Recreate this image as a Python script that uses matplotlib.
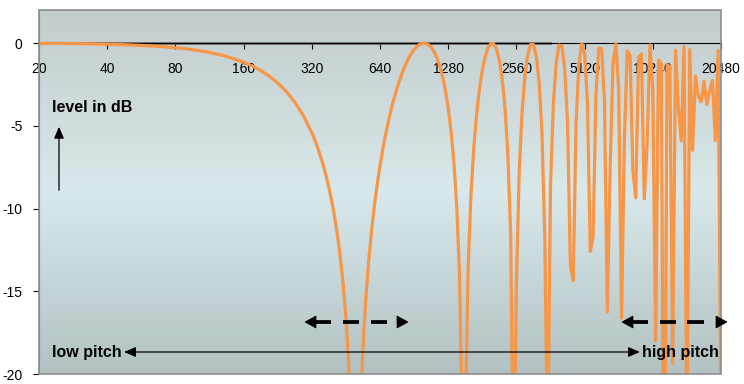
import matplotlib.pyplot as plt
import numpy as np
from matplotlib.patches import Rectangle, Polygon
from matplotlib.ticker import NullLocator

plt.rcParams['font.family'] = ['Liberation Sans', 'DejaVu Sans']

## ---------------- data ----------------
# frequency (Hz) of each point of the response curve
freq = [20, 23.8, 28.3, 33.6, 40, 47.6, 56.6, 67.3, 80, 95.1, 113.1, 134.5,
        160, 174.5, 190.3, 207.5, 226.3, 246.8, 269.1, 293.5,
        320, 329.4, 339.0, 349.0, 359.2, 369.7, 380.5, 391.7, 403.2, 415.0,
        427.1, 439.7, 452.5, 465.8, 479.5, 493.5, 508.0, 522.8, 538.2, 553.9,
        570.2, 586.9, 604.1, 621.8,
        640, 658.8, 678.1, 697.9, 718.4, 739.4, 761.1, 783.4, 806.3, 830.0,
        854.3, 879.3, 905.1, 931.6, 958.9, 987.0, 1015.9, 1045.7, 1076.3,
        1107.9, 1140.3, 1173.8, 1208.2, 1243.6,
        1280, 1317.5, 1356.1, 1395.9, 1436.8, 1478.9, 1522.2, 1566.8, 1612.7,
        1660.0, 1708.6, 1758.7, 1810.2, 1863.2, 1917.8, 1974.0, 2031.9, 2091.4,
        2152.7, 2215.8, 2280.7, 2347.5, 2416.3, 2487.1,
        2560, 2635.0, 2712.3, 2791.7, 2873.6, 2957.8, 3044.4, 3133.7, 3225.3,
        3319.8, 3417.1, 3517.4, 3620.4, 3726.3, 3835.6, 3948.0, 4063.7, 4182.8,
        4305.4, 4431.6, 4561.4, 4695.0, 4832.5, 4974.3,
        5120, 5270.0, 5424.5, 5583.4, 5747.0, 5915.4, 6088.7, 6267.2, 6450.8,
        6639.8, 6834.4, 7034.6, 7240.8, 7452.9, 7671.3, 7896.1, 8127.5, 8365.6,
        8610.8, 8863.1, 9122.8, 9390.1, 9665.3, 9948.5,
        10240, 10540.1, 10848.9, 11166.8, 11494.0, 11830.8, 12177.5, 12534.3,
        12901.6, 13279.6, 13668.8, 14069.3, 14481.5, 14905.9, 15342.7, 15792.2,
        16255.0, 16731.3, 17221.6, 17726.2, 18245.6, 18780.2, 19330.5, 19897.0,
        20480]

# level in dB at each of those points
level = [-0.02, -0.02, -0.03, -0.05, -0.07, -0.10, -0.14, -0.20, -0.28, -0.39,
         -0.56, -0.80, -1.15, -1.38, -1.66, -2.00, -2.41, -2.92, -3.57, -4.38,
         -5.42, -5.83, -6.29, -6.81, -7.37, -8.00, -8.72, -9.53, -10.48, -11.57,
         -12.88, -14.50, -16.55, -19.39, -23.8, -33.8, -32.0, -22.9, -18.4,
         -15.47, -13.20, -11.39, -9.86, -8.56,
         -7.42, -6.40, -5.50, -4.69, -3.96, -3.31, -2.72, -2.19, -1.72, -1.30,
         -0.94, -0.64, -0.39, -0.20, -0.07, -0.01, -0.01, -0.09, -0.25,
         -0.51, -0.87, -1.36, -2.01, -2.84,
         -3.91, -5.31, -7.19, -9.86, -14.10, -23.57, -23.12, -13.63, -9.20,
         -6.34, -4.30, -2.78, -1.65, -0.83, -0.29, -0.03, -0.04, -0.36,
         -1.04, -2.17, -3.93, -6.73, -11.70, -27.85,
         -14.55, -7.71, -4.17, -2.01, -0.70, -0.08, -0.09, -0.79, -2.38,
         -5.41, -11.78, -25.3, -8.65, -3.71, -1.21, -0.12, -0.18, -1.52,
         -4.82, -13.42, -14.35, -4.81, -1.26, -0.03,
         -0.63, -3.59, -12.59, -11.73, -3.10, -0.31, -0.34, -3.51, -16.25,
         -7.43, -1.23, -0.05, -2.76, -16.62, -5.81, -0.47, -0.72, -7.75,
         -9.35, -0.83, -0.66, -9.41, -6.09, -0.11,
         -2.75, -18.0, -1.02, -1.25, -34.5, -1.29, -1.43, -19.37,
         -0.42, -3.90, -5.92, -0.21, -24.7, -0.39, -6.48, -2.00,
         -3.15, -3.55, -2.30, -3.71, -2.89, -2.26, -5.89, -0.46,
         -24.0]

# grey 0 dB reference line
ref_freq = [20, 3600]
ref_level = [0, 0]

xticks = [20, 40, 80, 160, 320, 640, 1280, 2560, 5120, 10240, 20480]
yticks = [0, -5, -10, -15, -20]

## ---------------- figure ----------------
W, H = 744, 384
fig = plt.figure(figsize=(W / 100, H / 100), dpi=100)
rect = [39 / W, 10 / H, 682 / W, 364 / H]

# gradient background of the plot area
bg = fig.add_axes(rect, zorder=0)
top = np.array([0.765, 0.800, 0.804])
mid = np.array([0.850, 0.910, 0.918])
bot = np.array([0.700, 0.757, 0.762])
t = np.linspace(0, 1, 200)[:, None]
grad = np.where(t < 0.5, top + (mid - top) * (t / 0.5), mid + (bot - mid) * ((t - 0.5) / 0.5))
bg.imshow(grad[:, None, :], aspect='auto', extent=[0, 1, 0, 1])
bg.axis('off')

ax = fig.add_axes(rect, zorder=1)
ax.patch.set_visible(False)
ax.set_xscale('log', base=2)
ax.set_xlim(20, 20480)
ax.set_ylim(-20, 2)

ax.plot(ref_freq, ref_level, color='#6f6f6f', lw=2.0, zorder=2)
ax.plot(freq, level, color='#F79646', lw=2.3, solid_joinstyle='round', zorder=3)

# axis at 0 dB
for s in ['top', 'right']:
    ax.spines[s].set_visible(False)
ax.spines['left'].set_color('#8c8c8c')
ax.spines['bottom'].set_position(('data', 0))
ax.spines['bottom'].set_linewidth(0.8)
ax.add_patch(Rectangle((0, 0), 1, 1, transform=ax.transAxes, fill=False,
                       ec='#8c8c8c', lw=1.2, zorder=5, clip_on=False))

ax.set_xticks(xticks)
ax.set_xticklabels([str(v) for v in xticks])
ax.xaxis.set_minor_locator(NullLocator())
ax.tick_params(axis='x', direction='out', length=4, width=0.8, pad=9.5,
               labelsize=10)
ax.set_yticks(yticks)
ax.set_yticklabels([str(v) for v in yticks])
ax.tick_params(axis='y', direction='out', length=4, width=0.8, pad=8,
               labelsize=10)


def fx(px):
    return (px - 39) / 682.0


def fy(py):
    return (374 - py) / 364.0


def head(tx, ty, d, L=11, h=6):
    # solid triangle arrow head, tip at (tx, ty) in pixels, d=+1 points right
    pts = [(fx(tx), fy(ty)), (fx(tx - d * L), fy(ty - h)), (fx(tx - d * L), fy(ty + h))]
    ax.add_patch(Polygon(pts, closed=True, transform=ax.transAxes, fc='black',
                         ec='black', lw=0.5, zorder=6, clip_on=False))


# annotations
ax.text(fx(52), fy(107), 'level in dB', transform=ax.transAxes, fontsize=11.5,
        fontweight='bold', ha='left', va='center')
ax.annotate('', xy=(fx(59), fy(124)), xytext=(fx(59), fy(193)),
            xycoords='axes fraction',
            arrowprops=dict(arrowstyle='-|>,head_length=0.7,head_width=0.3',
                            color='black', lw=0.9, mutation_scale=10))

ax.text(fx(52), fy(357), 'low pitch', transform=ax.transAxes, fontsize=11.5,
        fontweight='bold', ha='left', va='baseline')
ax.text(fx(642), fy(357), 'high pitch', transform=ax.transAxes, fontsize=11.5,
        fontweight='bold', ha='left', va='baseline')
ax.annotate('', xy=(fx(640), fy(352)), xytext=(fx(124), fy(352)),
            xycoords='axes fraction',
            arrowprops=dict(arrowstyle='<|-|>,head_length=0.7,head_width=0.3',
                            color='black', lw=0.9, mutation_scale=10,
                            shrinkA=0, shrinkB=0))

# dashed double arrows (dash segments in pixels)
dash_arrows = [(305, 408, [(314, 331), (343, 359), (371, 387)]),
               (622, 727, [(631, 648), (660, 676), (687, 704)])]
for x0, x1, segs in dash_arrows:
    for a, b in segs:
        ax.plot([fx(a), fx(b)], [fy(322), fy(322)], transform=ax.transAxes,
                color='black', lw=2.7, solid_capstyle='butt', zorder=6,
                clip_on=False)
    head(x0, 322, -1)
    head(x1, 322, 1)

fig.savefig('out.png', dpi=100)
